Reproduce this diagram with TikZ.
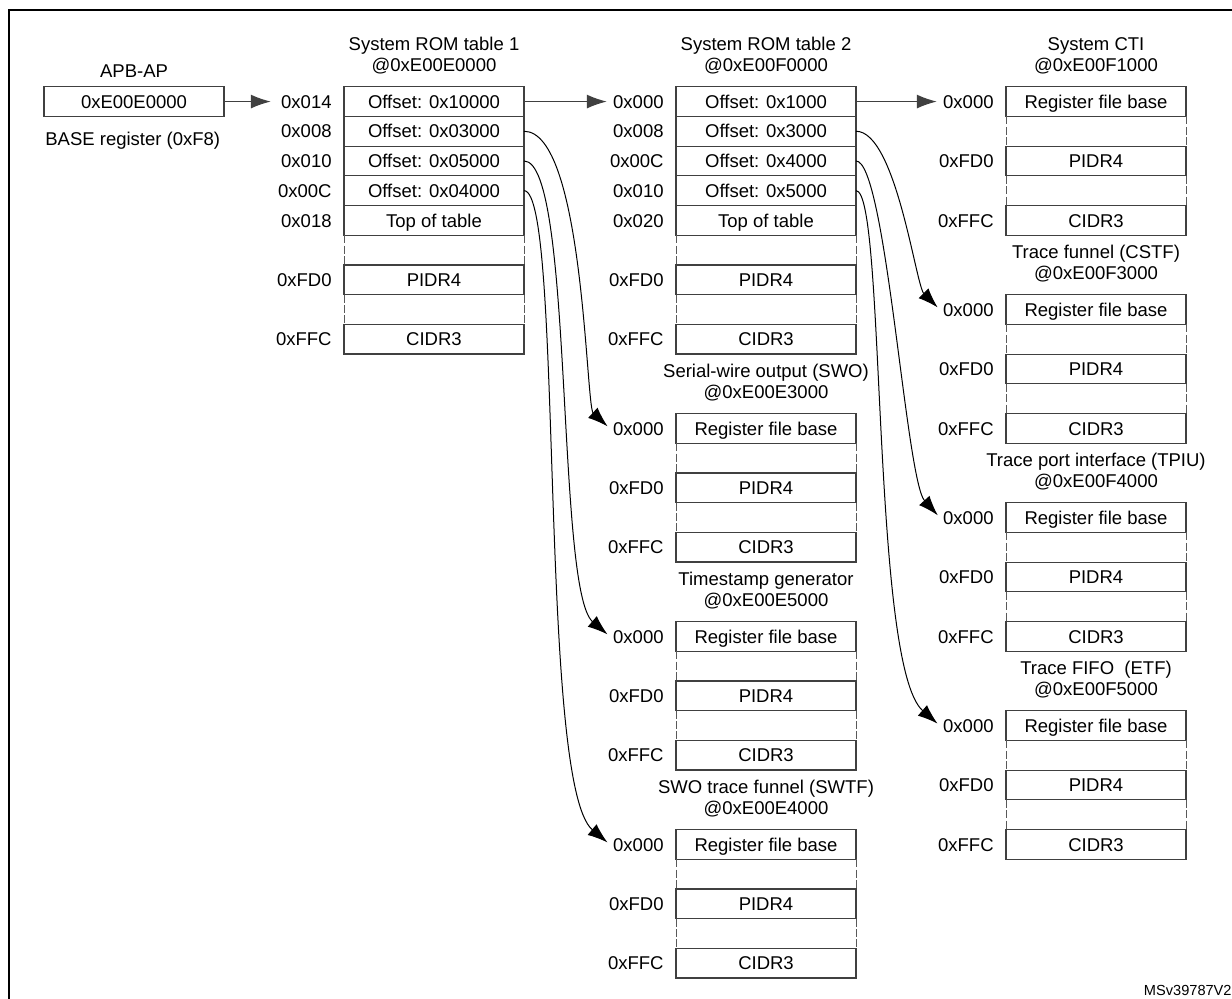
\documentclass[tikz,border=0pt]{standalone}
\usepackage{fontspec}
\setmainfont{Liberation Sans}
\usetikzlibrary{arrows.meta, positioning}

\begin{document}
\begin{tikzpicture}[
  x=1pt, y=1pt,
  >={Latex[length=10pt,width=7pt]},
  every node/.style={font=\fontsize{9.25pt}{10.5pt}\selectfont, align=center},
  cell/.style={draw=black!75, line width=0.6pt, minimum width=90pt, minimum height=14.85pt,
    inner sep=0pt, outer sep=0pt, text height=6.7pt, text depth=0pt},
  lab/.style={inner sep=1.5pt, text height=6.7pt, text depth=0pt},
  title/.style={inner sep=0pt},
  gapline/.style={draw=black!65, line width=0.5pt, dash pattern=on 4pt off 1.2pt},
  link/.style={->, draw=black, line width=0.5pt, shorten >=1.5pt},
  label distance=4.5pt
]
\useasboundingbox (0,0) rectangle (616,-499.5);

% Cadre
\draw[line width=1pt] (616,-5) -- (4.5,-5) -- (4.5,-499.5);

% APB-AP
\node[cell] (apb) at (67,-50.78) {0xE00E0000};
\node[title, above=4.2pt of apb] (apbt) {APB-AP};
\node[title, below right=7.5pt and 0.5pt of apb.south west] (base) {BASE register (0xF8)};

% System ROM table 1
\node[cell, right=60pt of apb, label={[lab,name=r1l]left:0x014}] (r1a) {Offset: 0x10000};
\node[cell, below=0pt of r1a, label={[lab]left:0x008}] (r1b) {Offset: 0x03000};
\node[cell, below=0pt of r1b, label={[lab]left:0x010}] (r1c) {Offset: 0x05000};
\node[cell, below=0pt of r1c, label={[lab]left:0x00C}] (r1d) {Offset: 0x04000};
\node[cell, below=0pt of r1d, label={[lab]left:0x018}] (r1e) {Top of table};
\node[cell, below=14.85pt of r1e, label={[lab]left:0xFD0}] (r1f) {PIDR4};
\node[cell, below=14.85pt of r1f, label={[lab]left:0xFFC}] (r1g) {CIDR3};
\node[title, above=6pt of r1a] (r1t) {System ROM table 1\\@0xE00E0000};

% System ROM table 2
\node[cell, right=76pt of r1a, label={[lab,name=r2l]left:0x000}] (r2a) {Offset: 0x1000};
\node[cell, below=0pt of r2a, label={[lab]left:0x008}] (r2b) {Offset: 0x3000};
\node[cell, below=0pt of r2b, label={[lab]left:0x00C}] (r2c) {Offset: 0x4000};
\node[cell, below=0pt of r2c, label={[lab]left:0x010}] (r2d) {Offset: 0x5000};
\node[cell, below=0pt of r2d, label={[lab]left:0x020}] (r2e) {Top of table};
\node[cell, below=14.85pt of r2e, label={[lab]left:0xFD0}] (r2f) {PIDR4};
\node[cell, below=14.85pt of r2f, label={[lab]left:0xFFC}] (r2g) {CIDR3};
\node[title, above=6pt of r2a] (r2t) {System ROM table 2\\@0xE00F0000};

% Composants de la table 1
\node[cell, below=29.75pt of r2g, label={[lab,name=swol]left:0x000}] (swoa) {Register file base};
\node[cell, below=14.85pt of swoa, label={[lab]left:0xFD0}] (swob) {PIDR4};
\node[cell, below=14.85pt of swob, label={[lab]left:0xFFC}] (swoc) {CIDR3};
\node[title, above=6pt of swoa] (swot) {Serial-wire output (SWO)\\@0xE00E3000};

\node[cell, below=29.75pt of swoc, label={[lab,name=tsl]left:0x000}] (tsa) {Register file base};
\node[cell, below=14.85pt of tsa, label={[lab]left:0xFD0}] (tsb) {PIDR4};
\node[cell, below=14.85pt of tsb, label={[lab]left:0xFFC}] (tsc) {CIDR3};
\node[title, above=6pt of tsa] (tst) {Timestamp generator\\@0xE00E5000};

\node[cell, below=29.75pt of tsc, label={[lab,name=swtfl]left:0x000}] (swtfa) {Register file base};
\node[cell, below=14.85pt of swtfa, label={[lab]left:0xFD0}] (swtfb) {PIDR4};
\node[cell, below=14.85pt of swtfb, label={[lab]left:0xFFC}] (swtfc) {CIDR3};
\node[title, above=6pt of swtfa] (swtft) {SWO trace funnel (SWTF)\\@0xE00E4000};

% Composants de la table 2
\node[cell, right=75pt of r2a, label={[lab,name=ctil]left:0x000}] (ctia) {Register file base};
\node[cell, below=14.85pt of ctia, label={[lab]left:0xFD0}] (ctib) {PIDR4};
\node[cell, below=14.85pt of ctib, label={[lab]left:0xFFC}] (ctic) {CIDR3};
\node[title, above=6pt of ctia] (ctit) {System CTI\\@0xE00F1000};

\node[cell, below=29.75pt of ctic, label={[lab,name=cstfl]left:0x000}] (cstfa) {Register file base};
\node[cell, below=14.85pt of cstfa, label={[lab]left:0xFD0}] (cstfb) {PIDR4};
\node[cell, below=14.85pt of cstfb, label={[lab]left:0xFFC}] (cstfc) {CIDR3};
\node[title, above=6pt of cstfa] (cstft) {Trace funnel (CSTF)\\@0xE00F3000};

\node[cell, below=29.75pt of cstfc, label={[lab,name=tpiul]left:0x000}] (tpiua) {Register file base};
\node[cell, below=14.85pt of tpiua, label={[lab]left:0xFD0}] (tpiub) {PIDR4};
\node[cell, below=14.85pt of tpiub, label={[lab]left:0xFFC}] (tpiuc) {CIDR3};
\node[title, above=6pt of tpiua] (tpiut) {Trace port interface (TPIU)\\@0xE00F4000};

\node[cell, below=29.75pt of tpiuc, label={[lab,name=etfl]left:0x000}] (etfa) {Register file base};
\node[cell, below=14.85pt of etfa, label={[lab]left:0xFD0}] (etfb) {PIDR4};
\node[cell, below=14.85pt of etfb, label={[lab]left:0xFFC}] (etfc) {CIDR3};
\node[title, above=6pt of etfa] (etft) {Trace FIFO\ \ (ETF)\\@0xE00F5000};

% Trous pointilles
\draw[gapline] (r1e.south west) -- (r1f.north west) (r1e.south east) -- (r1f.north east) (r1f.south west) -- (r1g.north west) (r1f.south east) -- (r1g.north east);
\draw[gapline] (r2e.south west) -- (r2f.north west) (r2e.south east) -- (r2f.north east) (r2f.south west) -- (r2g.north west) (r2f.south east) -- (r2g.north east);
\draw[gapline] (swoa.south west) -- (swob.north west) (swoa.south east) -- (swob.north east) (swob.south west) -- (swoc.north west) (swob.south east) -- (swoc.north east);
\draw[gapline] (tsa.south west) -- (tsb.north west) (tsa.south east) -- (tsb.north east) (tsb.south west) -- (tsc.north west) (tsb.south east) -- (tsc.north east);
\draw[gapline] (swtfa.south west) -- (swtfb.north west) (swtfa.south east) -- (swtfb.north east) (swtfb.south west) -- (swtfc.north west) (swtfb.south east) -- (swtfc.north east);
\draw[gapline] (ctia.south west) -- (ctib.north west) (ctia.south east) -- (ctib.north east) (ctib.south west) -- (ctic.north west) (ctib.south east) -- (ctic.north east);
\draw[gapline] (cstfa.south west) -- (cstfb.north west) (cstfa.south east) -- (cstfb.north east) (cstfb.south west) -- (cstfc.north west) (cstfb.south east) -- (cstfc.north east);
\draw[gapline] (tpiua.south west) -- (tpiub.north west) (tpiua.south east) -- (tpiub.north east) (tpiub.south west) -- (tpiuc.north west) (tpiub.south east) -- (tpiuc.north east);
\draw[gapline] (etfa.south west) -- (etfb.north west) (etfa.south east) -- (etfb.north east) (etfb.south west) -- (etfc.north west) (etfb.south east) -- (etfc.north east);

% Fleches
\draw[link, draw=black!75, line width=0.6pt, shorten >=3.5pt] (apb) -- (r1l);
\draw[link, draw=black!75, line width=0.6pt] (r1a) -- (r2l);
\draw[link, draw=black!75, line width=0.6pt] (r2a) -- (ctil);
\draw[link] (r1b.east) .. controls +(30,0) and +(-12,11) .. (swol.west);
\draw[link] (r1c.east) .. controls +(25,0) and +(-27,23) .. (tsl.west);
\draw[link] (r1d.east) .. controls +(20,0) and +(-36,30) .. (swtfl.west);
\draw[link] (r2b.east) .. controls +(20,0) and +(-12,12) .. (cstfl.west);
\draw[link] (r2c.east) .. controls +(15,0) and +(-17,18.75) .. (tpiul.west);
\draw[link] (r2d.east) .. controls +(15,0) and +(-34.5,30) .. (etfl.west);

\node[font=\fontsize{7.3pt}{8pt}\selectfont, anchor=base east, inner sep=0pt] (msv) at (616,-497.6) {MSv39787V2};
\end{tikzpicture}
\end{document}
